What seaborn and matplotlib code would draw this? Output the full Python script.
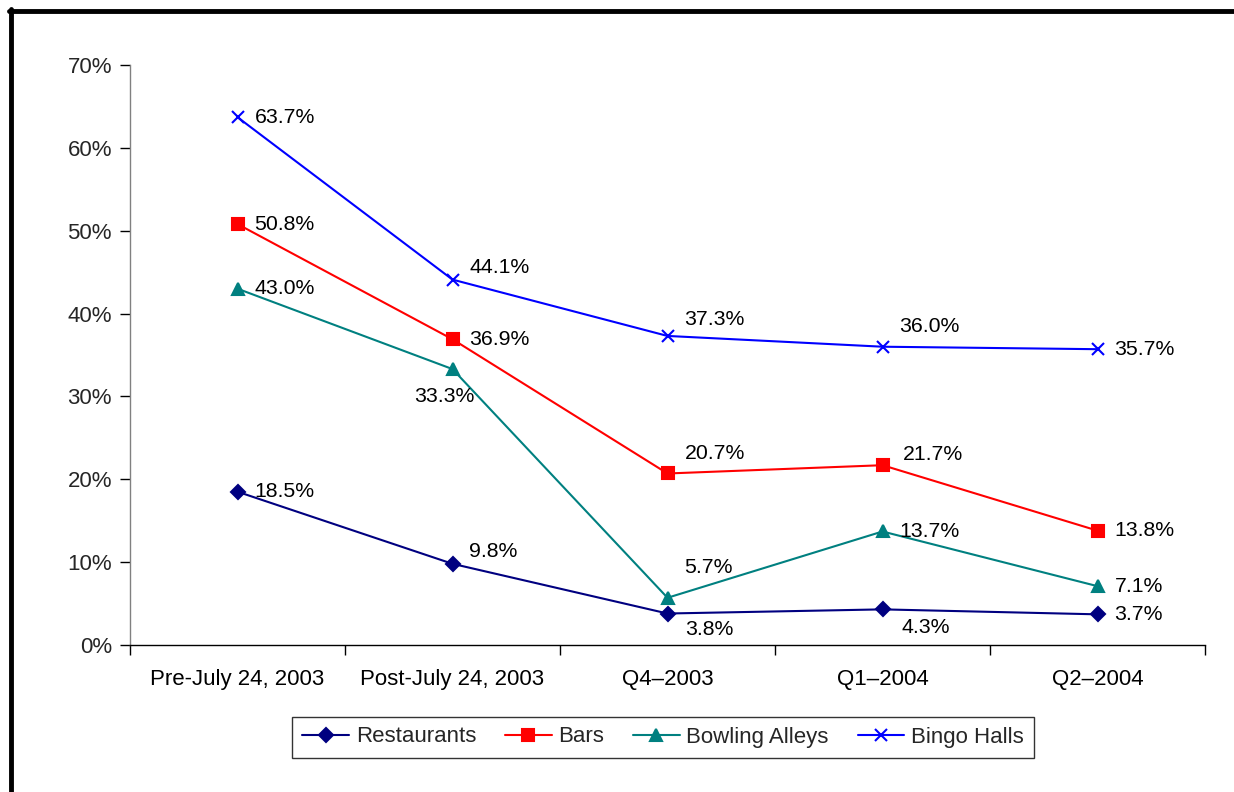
import seaborn as sns
import matplotlib.pyplot as plt
from matplotlib.lines import Line2D
import pandas as pd

periods = ['Pre-July 24, 2003', 'Post-July 24, 2003', 'Q4\u20132003', 'Q1\u20132004', 'Q2\u20132004']
restaurants = [18.5, 9.8, 3.8, 4.3, 3.7]
bars = [50.8, 36.9, 20.7, 21.7, 13.8]
bowling = [43.0, 33.3, 5.7, 13.7, 7.1]
bingo = [63.7, 44.1, 37.3, 36.0, 35.7]

series = {'Restaurants': restaurants, 'Bars': bars, 'Bowling Alleys': bowling, 'Bingo Halls': bingo}
palette = {'Restaurants': '#000080', 'Bars': '#FF0000', 'Bowling Alleys': '#008080', 'Bingo Halls': '#0000FF'}
markers = {'Restaurants': 'D', 'Bars': 's', 'Bowling Alleys': '^', 'Bingo Halls': 'x'}
msizes = {'Restaurants': 7, 'Bars': 8, 'Bowling Alleys': 8, 'Bingo Halls': 9}

# label offsets in pixels (dx, dy)
offsets = {
    'Restaurants': [(17, 0), (17, 12), (18, -16), (19, -18), (17, 0)],
    'Bars': [(17, 0), (17, 0), (17, 20), (20, 11), (17, 0)],
    'Bowling Alleys': [(17, 0), (-38, -27), (17, 30), (17, 0), (17, 0)],
    'Bingo Halls': [(17, 0), (17, 12), (17, 16), (17, 20), (17, 0)],
}

sns.set_theme(style='white')
plt.rcParams['font.family'] = ['Liberation Sans', 'DejaVu Sans']

fig = plt.figure(figsize=(12.34, 7.92), dpi=100)
ax = fig.add_axes([130 / 1234, 147 / 792, 1075 / 1234, 580 / 792])

for name, vals in series.items():
    d = pd.DataFrame({'pos': range(len(vals)), 'value': vals})
    sns.lineplot(data=d, x='pos', y='value', color=palette[name], marker=markers[name],
                 markersize=msizes[name], markeredgecolor=palette[name], markeredgewidth=1.5,
                 linewidth=1.5, ax=ax)

for name, vals in series.items():
    for i, v in enumerate(vals):
        dx, dy = offsets[name][i]
        ax.annotate(f'{v:.1f}%', (i, v), xytext=(dx, dy), textcoords='offset pixels',
                    ha='left', va='center', fontsize=15.3, color='black')

ax.set_xlim(-0.5, 4.5)
ax.set_ylim(0, 70)
ax.set_yticks(range(0, 71, 10))
ax.set_yticklabels([f'{t}%' for t in range(0, 71, 10)])
ax.set_xticks(range(len(periods)))
ax.set_xticklabels(periods)
ax.set_xticks([i - 0.5 for i in range(len(periods) + 1)], minor=True)
ax.tick_params(axis='x', which='major', length=0, pad=17, labelsize=16, colors='black')
ax.tick_params(axis='x', which='minor', length=7, width=1, color='black', bottom=True)
ax.tick_params(axis='y', length=7, width=1, color='black', left=True, labelsize=16, pad=6)
ax.set_xlabel('')
ax.set_ylabel('')
for s in ['top', 'right']:
    ax.spines[s].set_visible(False)
ax.spines['left'].set_color('#808080')
ax.spines['bottom'].set_color('black')
ax.spines['left'].set_linewidth(1)
ax.spines['bottom'].set_linewidth(1)

handles = [Line2D([0], [0], color=palette[n], marker=markers[n], markersize=msizes[n],
                  markeredgecolor=palette[n], markeredgewidth=1.5, lw=1.5) for n in series]
leg = fig.legend(handles, list(series.keys()), loc='center', ncol=4,
                 bbox_to_anchor=(663 / 1234, 55 / 792), fontsize=16, frameon=True,
                 fancybox=False, shadow=False, edgecolor='black', handlelength=2.1,
                 columnspacing=1.3, handletextpad=0.3, borderpad=0.45)
leg.get_frame().set_linewidth(1)

# outer frame (cut off at right and bottom)
fig.add_artist(Line2D([9 / 1234, 1], [1 - 11 / 792, 1 - 11 / 792], color='black', lw=3.5))
fig.add_artist(Line2D([11 / 1234, 11 / 1234], [0, 1 - 9 / 792], color='black', lw=3.5))

fig.savefig('out.png', dpi=100)
